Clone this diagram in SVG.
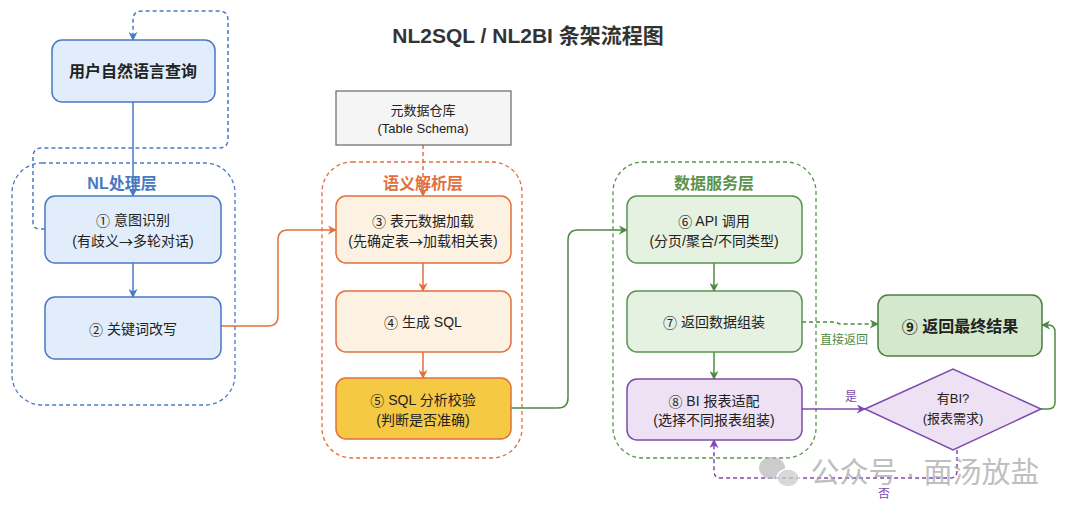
<svg xmlns="http://www.w3.org/2000/svg" width="1080" height="519" viewBox="0 0 1080 519">
<defs>
<marker id="mb" viewBox="0 0 10 10" refX="9" refY="5" markerWidth="9" markerHeight="9" orient="auto" markerUnits="userSpaceOnUse"><path d="M0,0 L10,5 L0,10 L3,5 z" fill="#4a78c2"/></marker>
<marker id="mo" viewBox="0 0 10 10" refX="9" refY="5" markerWidth="9" markerHeight="9" orient="auto" markerUnits="userSpaceOnUse"><path d="M0,0 L10,5 L0,10 L3,5 z" fill="#e0703c"/></marker>
<marker id="mg" viewBox="0 0 10 10" refX="9" refY="5" markerWidth="9" markerHeight="9" orient="auto" markerUnits="userSpaceOnUse"><path d="M0,0 L10,5 L0,10 L3,5 z" fill="#4f8a43"/></marker>
<marker id="mp" viewBox="0 0 10 10" refX="9" refY="5" markerWidth="9" markerHeight="9" orient="auto" markerUnits="userSpaceOnUse"><path d="M0,0 L10,5 L0,10 L3,5 z" fill="#7e4aae"/></marker>
</defs>
<style>
text{font-family:"Liberation Sans","Noto Sans CJK SC",sans-serif;text-anchor:middle;dominant-baseline:central;fill:#222;font-size:14px}
.b{font-weight:bold}
.ar{font-family:"Noto Sans CJK SC",sans-serif}
.layer{fill:none;stroke-dasharray:4 3;stroke-width:1.3}
.nb{fill:#e2edfb;stroke:#4a78c2;stroke-width:1.5}
.no{fill:#fdf2e2;stroke:#e0703c;stroke-width:1.5}
.ng{fill:#e5f1e1;stroke:#5b9350;stroke-width:1.5}
.np{fill:#ede1f3;stroke:#7e4aae;stroke-width:1.5}
.c{fill:none;stroke-width:1.5}
</style>
<rect width="1080" height="519" fill="#ffffff"/>
<text x="528" y="35" class="b" style="font-size:21px;fill:#333">NL2SQL / NL2BI 条架流程图</text>

<g id="layer-nl"><rect x="12" y="163" width="223" height="242" rx="30" class="layer" stroke="#4a78c2"/><text x="122" y="183" class="b" style="fill:#4a78c2;font-size:16px">NL处理层</text></g>
<g id="layer-sem"><rect x="322" y="162" width="200" height="296" rx="30" class="layer" stroke="#e0703c"/><text x="423" y="183" class="b" style="fill:#e0703c;font-size:16px">语义解析层</text></g>
<g id="layer-data"><rect x="613" y="162" width="203" height="296" rx="30" class="layer" stroke="#5b9350"/><text x="714" y="183" class="b" style="fill:#5b9350;font-size:16px">数据服务层</text></g>

<g id="connectors">
<path class="c" d="M45,229 H40 Q33,229 33,222 V157 Q33,148 42,148 H219 Q228,148 228,139 V20 Q228,11 219,11 H142 Q133,11 133,20 V40" stroke="#4a78c2" stroke-dasharray="4 3" marker-end="url(#mb)"/>
<path class="c" d="M133,102 V196" stroke="#4a78c2" marker-end="url(#mb)"/>
<path class="c" d="M133,263 V297" stroke="#4a78c2" marker-end="url(#mb)"/>
<path class="c" d="M221,326 H268 Q278,326 278,316 V240 Q278,230 288,230 H336" stroke="#e0703c" marker-end="url(#mo)"/>
<path class="c" d="M423,145 V196" stroke="#e0703c" stroke-dasharray="4 3" marker-end="url(#mo)"/>
<path class="c" d="M423,263 V291" stroke="#e0703c" marker-end="url(#mo)"/>
<path class="c" d="M423,352 V378" stroke="#e0703c" marker-end="url(#mo)"/>
<path class="c" d="M511,408 H558 Q568,408 568,398 V240 Q568,230 578,230 H627" stroke="#4f8a43" marker-end="url(#mg)"/>
<path class="c" d="M714,263 V291" stroke="#4f8a43" marker-end="url(#mg)"/>
<path class="c" d="M714,352 V379" stroke="#4f8a43" marker-end="url(#mg)"/>
<path class="c" d="M802,322 H835 L840,324 H878" stroke="#4f8a43" stroke-dasharray="4 3" marker-end="url(#mg)"/>
<text x="844" y="340" style="fill:#4f8a43;font-size:12px">直接返回</text>
<path class="c" d="M802,409 H865" stroke="#7e4aae" marker-end="url(#mp)"/>
<text x="851" y="397" style="fill:#7e4aae;font-size:12px">是</text>
<path class="c" d="M1041,409 H1048 Q1055,409 1055,402 V332 Q1055,325 1048,325 H1042" stroke="#4f8a43" marker-end="url(#mg)"/>
<path class="c" d="M957,450 V471 Q957,478 950,478 H721 Q714,478 714,471 V440" stroke="#7e4aae" stroke-dasharray="4 3" marker-end="url(#mp)"/>
<text x="884" y="494" style="fill:#7e4aae;font-size:12px">否</text>
</g>

<g id="n-user"><rect x="52" y="40" width="163" height="62" rx="10" class="nb"/><text x="133" y="71" class="b" style="font-size:16px">用户自然语言查询</text></g>
<g id="n1"><rect x="45" y="196" width="176" height="67" rx="10" class="nb"/><text x="133" y="220"><tspan class="ar">①</tspan> 意图识别</text><text x="133" y="241">(有歧义<tspan class="ar">→</tspan>多轮对话)</text></g>
<g id="n2"><rect x="45" y="297" width="176" height="62" rx="10" class="nb"/><text x="133" y="329"><tspan class="ar">②</tspan> 关键词改写</text></g>
<g id="n-meta"><rect x="336" y="91" width="175" height="54" fill="#f5f5f5" stroke="#666" stroke-width="1.2"/><text x="423" y="110" style="font-size:13px">元数据仓库</text><text x="423" y="128" style="font-size:13px">(Table Schema)</text></g>
<g id="n3"><rect x="336" y="196" width="175" height="67" rx="10" class="no"/><text x="423" y="221"><tspan class="ar">③</tspan> 表元数据加载</text><text x="423" y="241">(先确定表<tspan class="ar">→</tspan>加载相关表)</text></g>
<g id="n4"><rect x="336" y="291" width="175" height="61" rx="10" class="no"/><text x="423" y="322"><tspan class="ar">④</tspan> 生成 SQL</text></g>
<g id="n5"><rect x="336" y="378" width="175" height="61" rx="10" fill="#f6c944" stroke="#e0703c" stroke-width="1.5"/><text x="423" y="400"><tspan class="ar">⑤</tspan> SQL 分析校验</text><text x="423" y="420">(判断是否准确)</text></g>
<g id="n6"><rect x="627" y="196" width="175" height="67" rx="10" class="ng"/><text x="714" y="221"><tspan class="ar">⑥</tspan> API 调用</text><text x="714" y="241">(分页/聚合/不同类型)</text></g>
<g id="n7"><rect x="627" y="291" width="175" height="61" rx="10" class="ng"/><text x="714" y="322"><tspan class="ar">⑦</tspan> 返回数据组装</text></g>
<g id="n8"><rect x="627" y="379" width="175" height="61" rx="10" class="np"/><text x="714" y="401"><tspan class="ar">⑧</tspan> BI 报表适配</text><text x="714" y="420">(选择不同报表组装)</text></g>
<g id="n9"><rect x="878" y="295" width="164" height="61" rx="10" fill="#d3e8cd" stroke="#4f7f42" stroke-width="1.5"/><text x="960" y="326" class="b" style="font-size:16px"><tspan class="ar">⑨</tspan> 返回最终结果</text></g>
<g id="n-dec"><polygon points="865,409 953,369 1041,409 953,450" class="np"/><text x="953" y="398" style="font-size:13px">有BI?</text><text x="953" y="418" style="font-size:13px">(报表需求)</text></g>

<g id="watermark" opacity="0.75">
<ellipse cx="772" cy="468" rx="13" ry="11" fill="#bbb"/>
<ellipse cx="788" cy="478" rx="11" ry="9" fill="#ccc" stroke="#fff" stroke-width="1.5"/>
<text x="925" y="473" style="fill:#aaa;font-size:29px">公众号 · 面汤放盐</text>
</g>
</svg>
